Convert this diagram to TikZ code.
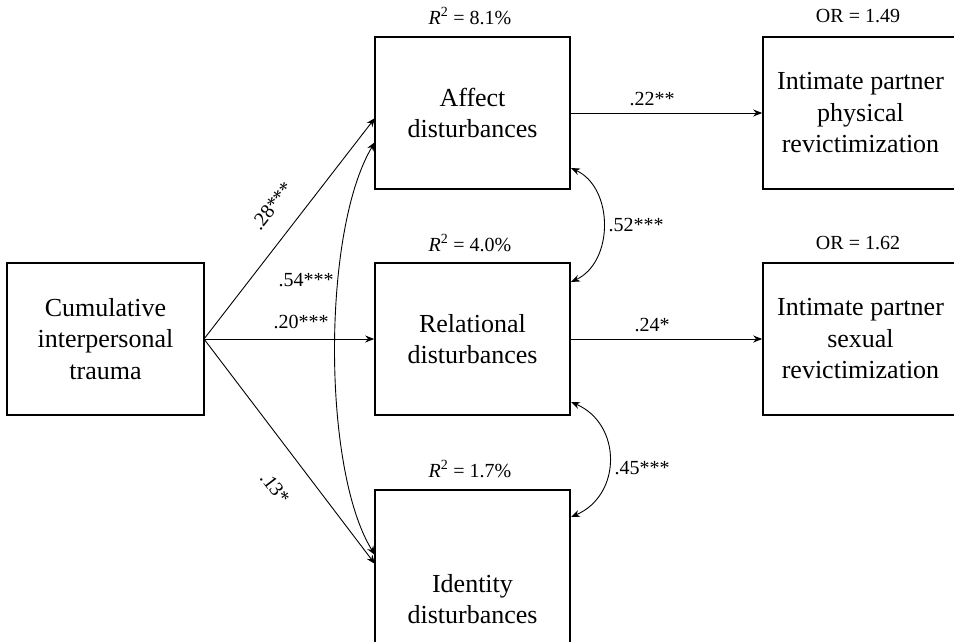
\documentclass[tikz,border=0pt]{standalone}
\usepackage{fontspec}
\setmainfont{Liberation Serif}
\usetikzlibrary{arrows.meta}
\begin{document}
\begin{tikzpicture}[x=1pt,y=-1pt,
  box/.style={draw, line width=1.6pt, minimum width=195pt, minimum height=152pt, inner sep=0pt,
    align=center, font=\fontsize{26}{31.5}\selectfont},
  lbl/.style={font=\fontsize{20}{24}\selectfont, inner sep=1pt},
  arr/.style={line width=0.9pt, -{Stealth[length=9pt,width=7pt]}},
  darr/.style={line width=0.9pt, {Stealth[length=9pt,width=7pt]}-{Stealth[length=9pt,width=7pt]}}]
\useasboundingbox (0,0) rectangle (954,642);
\clip (0,0) rectangle (954,642);
\node[box, minimum width=197pt] (cum) at (105.5,339) {Cumulative\\interpersonal\\trauma};
\node[box] (aff) at (472.5,113) {Affect\\disturbances};
\node[box] (rel) at (472.5,339) {Relational\\disturbances};
\node[box, minimum height=218pt] (ide) at (472.5,599) {Identity\\disturbances};
\node[box] (phy) at (860.5,113) {Intimate partner\\physical\\revictimization};
\node[box] (sex) at (860.5,339) {Intimate partner\\sexual\\revictimization};
\node[lbl] (r1) at (470,16) {\textit{R}\textsuperscript{2} = 8.1\%};
\node[lbl] (r2) at (470,243) {\textit{R}\textsuperscript{2} = 4.0\%};
\node[lbl] (r3) at (470,469) {\textit{R}\textsuperscript{2} = 1.7\%};
\node[lbl] (o1) at (858,16) {OR = 1.49};
\node[lbl] (o2) at (858,243) {OR = 1.62};
\coordinate (cr) at (204,339);
\coordinate (a1) at (375,118);
\coordinate (a2) at (375,142);
\coordinate (i1) at (375,555);
\coordinate (i2) at (375,564);
\draw[arr] (cr) -- (a1);
\draw[arr] (cr) -- (rel.west);
\draw[arr] (cr) -- (i2);
\draw[darr] (a2) .. controls (322,230) and (322,470) .. (i1);
\draw[arr] (aff.east) -- (phy.west);
\draw[arr] (rel.east) -- (sex.west);
\coordinate (ar) at (571,168);
\coordinate (rr1) at (571,282);
\coordinate (rr2) at (571,402);
\coordinate (ir) at (571,517);
\draw[darr] (ar) .. controls (614,188) and (614,262) .. (rr1);
\draw[darr] (rr2) .. controls (622,424) and (622,495) .. (ir);
\node[lbl, rotate=52.3] (l28) at (272,206) {.28***};
\node[lbl] (l54) at (306,280) {.54***};
\node[lbl] (l20) at (301,322) {.20***};
\node[lbl, rotate=-52.6] (l13) at (275,488) {.13*};
\node[lbl] (l22) at (652,99) {.22**};
\node[lbl] (l24) at (652,325) {.24*};
\node[lbl] (l52) at (636,225) {.52***};
\node[lbl] (l45) at (642,468) {.45***};
\end{tikzpicture}
\end{document}
